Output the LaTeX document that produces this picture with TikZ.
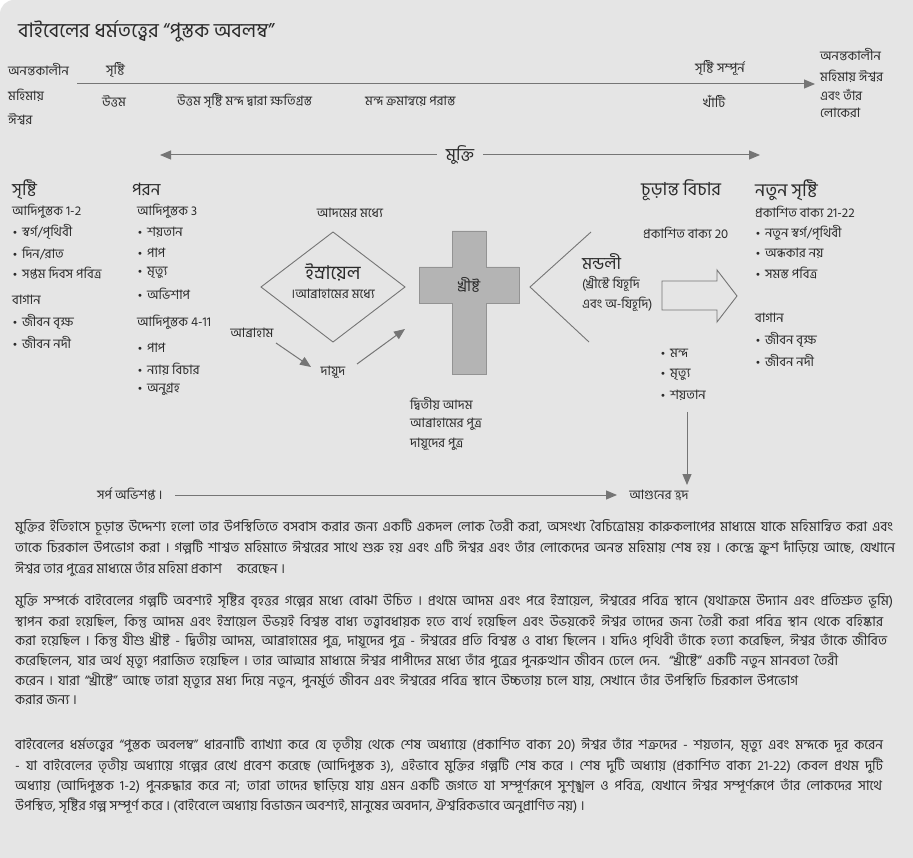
\documentclass[tikz,border=0pt]{standalone}
\usepackage{fontspec}
\usepackage{graphicx}
\setmainfont{Hind Siliguri}[Script=Bengali]
\newfontfamily\dvfont{DejaVu Sans}
\usetikzlibrary{arrows.meta}
\definecolor{bg}{HTML}{E5E5E5}
\definecolor{tc}{HTML}{2A2A2A}
\definecolor{lc}{HTML}{757575}
\definecolor{crossfill}{HTML}{B4B4B4}
\definecolor{crossline}{HTML}{939393}
\newcommand\bul{{\dvfont\fontsize{10}{10}\selectfont •}\hspace{4pt}}
\newcommand\fitline[2]{\sbox0{#2}\ifdim\wd0>#1\resizebox{#1}{!}{\usebox0}\else\makebox[#1][s]{#2}\fi}
\tikzset{
  txt/.style={anchor=west, inner sep=0pt, text=tc, font=\fontsize{13}{15}\selectfont},
  ctxt/.style={txt, anchor=center},
  hd/.style={txt, font=\fontsize{17}{19}\selectfont},
  ttl/.style={txt, font=\fontsize{20}{22}\selectfont},
  pl/.style={anchor=west, inner sep=0pt, text=tc, font=\fontsize{13.6}{15}\selectfont},
  ln/.style={draw=lc, line width=1pt},
  tip/.style={-{Triangle[length=11pt,width=9pt]}},
}
\begin{document}
\begin{tikzpicture}[x=1pt,y=-1pt]
\useasboundingbox (0,0) rectangle (913,858);
\fill[white] (0,0) rectangle (913,858);
\fill[bg] (913,858) -- (0,858) [rounded corners=14pt] -- (0,0) [sharp corners] -- (913,0) -- cycle;

% title
\node[ttl] (title) at (18,31) {বাইবেলের ধর্মতত্ত্বের “পুস্তক অবলম্ব”};

% top timeline
\node[txt] (t1) at (8,70) {অনন্তকালীন};
\node[txt] (t2) at (8,95) {মহিমায়};
\node[txt] (t3) at (8,119) {ঈশ্বর};
\node[txt] (srs) at (106,70) {সৃষ্টি};
\node[txt] (ut1) at (102,101) {উত্তম};
\node[txt] (ut2) at (177,101) {উত্তম সৃষ্টি মন্দ দ্বারা ক্ষতিগ্রস্ত};
\node[txt] (mnd) at (365,101) {মন্দ ক্রমান্বয়ে পরাস্ত};
\node[txt] (ssp) at (695,68) {সৃষ্টি সম্পূর্ন};
\node[txt] (khn) at (703,101) {খাঁটি};
\node[txt] (r1) at (820,55) {অনন্তকালীন};
\node[txt] (r2) at (820,76) {মহিমায় ঈশ্বর};
\node[txt] (r3) at (820,95) {এবং তাঁর};
\node[txt] (r4) at (820,113) {লোকেরা};
\coordinate (tS) at (77,84);
\coordinate (tE) at (815,84);
\draw[ln,tip] (tS) -- (tE);

% mukti arrow
\coordinate (mL) at (160,155);
\coordinate (mR) at (760,155);
\draw[ln,{Triangle[length=11pt,width=9pt]}-{Triangle[length=11pt,width=9pt]}] (mL) -- (mR);
\node[hd, anchor=center, fill=bg, inner xsep=9pt, inner ysep=2pt] (mukti) at (460,155) {মুক্তি};

% left column: creation
\node[hd] (c0) at (12,190) {সৃষ্টি};
\node[txt] (c1) at (12,211) {আদিপুস্তক 1-2};
\node[txt] (c2) at (12,232) {\bul স্বর্গ/পৃথিবী};
\node[txt] (c3) at (12,253) {\bul দিন/রাত};
\node[txt] (c4) at (12,273) {\bul সপ্তম দিবস পবিত্র};
\node[txt] (c5) at (12,300) {বাগান};
\node[txt] (c6) at (12,322) {\bul জীবন বৃক্ষ};
\node[txt] (c7) at (12,342) {\bul জীবন নদী};

% fall column
\node[hd] (f0) at (132,190) {পরন};
\node[txt] (f1) at (137,211) {আদিপুস্তক 3};
\node[txt] (f2) at (137,232) {\bul শয়তান};
\node[txt] (f3) at (137,253) {\bul পাপ};
\node[txt] (f4) at (137,273) {\bul মৃত্যু};
\node[txt] (f5) at (137,294) {\bul অভিশাপ};
\node[txt] (f6) at (137,322) {আদিপুস্তক 4-11};
\node[txt] (f7) at (137,348) {\bul পাপ};
\node[txt] (f8) at (137,369) {\bul ন্যায় বিচার};
\node[txt] (f9) at (137,389) {\bul অনুগ্রহ};

% Israel diamond
\node[ctxt] (adam) at (350,213) {আদমের মধ্যে};
\draw[ln, line width=0.9pt] (333,232) -- (405,287) -- (333,342) -- (261,287) -- cycle;
\node[hd, anchor=center, font=\fontsize{19}{21}\selectfont] (isr) at (333,272) {ইস্রায়েল};
\node[ctxt] (isr2) at (333,294) {।আব্রাহামের মধ্যে};
\node[ctxt] (abr) at (252,333) {আব্রাহাম};
\node[ctxt] (dav) at (333,372) {দায়ূদ};
\coordinate (a1s) at (276,343);
\coordinate (a1e) at (311,367);
\coordinate (a2s) at (357,364);
\coordinate (a2e) at (405,329);
\draw[ln,tip] (a1s) -- (a1e);
\draw[ln,tip] (a2s) -- (a2e);

% cross
\filldraw[fill=crossfill, draw=crossline, line width=0.8pt]
  (452,231) -- (486,231) -- (486,267) -- (519,267) -- (519,303) -- (486,303)
  -- (486,374) -- (452,374) -- (452,303) -- (419,303) -- (419,267) -- (452,267) -- cycle;
\node[hd, anchor=center, font=\fontsize{15}{17}\selectfont] (christ) at (469,285) {খ্রীষ্ট};
\node[txt] (x1) at (410,404) {দ্বিতীয় আদম};
\node[txt] (x2) at (410,424) {আব্রাহামের পুত্র};
\node[txt] (x3) at (410,444) {দায়ূদের পুত্র};

% church
\draw[ln, line width=0.9pt] (591,232) -- (530,287) -- (589,342);
\node[hd] (ch0) at (582,262) {মন্ডলী};
\node[txt] (ch1) at (582,284) {(খ্রীস্টে যিহূদি};
\node[txt] (ch2) at (582,304) {এবং অ-যিহূদি)};
\draw[ln, line width=0.9pt] (662,281) -- (717,281) -- (717,270) -- (737,296) -- (717,322) -- (717,310) -- (662,310) -- cycle;

% final judgement
\node[hd, font=\fontsize{18}{20}\selectfont] (fj) at (641,190) {চূড়ান্ত বিচার};
\node[txt] (fj1) at (643,233) {প্রকাশিত বাক্য 20};
\node[txt] (e1) at (660,353) {\bul মন্দ};
\node[txt] (e2) at (660,375) {\bul মৃত্যু};
\node[txt] (e3) at (660,395) {\bul শয়তান};
\node[ctxt] (lake) at (659,495) {আগুনের হ্রদ};
\coordinate (dS) at (687,412);
\coordinate (dE) at (687,485);
\draw[ln,tip] (dS) -- (dE);

% new creation
\node[hd, font=\fontsize{18}{20}\selectfont] (nc0) at (755,190) {নতুন সৃষ্টি};
\node[txt] (nc1) at (755,212) {প্রকাশিত বাক্য 21-22};
\node[txt] (nc2) at (755,233) {\bul নতুন স্বর্গ/পৃথিবী};
\node[txt] (nc3) at (755,253) {\bul অন্ধকার নয়};
\node[txt] (nc4) at (755,273) {\bul সমস্ত পবিত্র};
\node[txt] (nc5) at (755,318) {বাগান};
\node[txt] (nc6) at (755,340) {\bul জীবন বৃক্ষ};
\node[txt] (nc7) at (755,360) {\bul জীবন নদী};

% serpent
\node[txt] (serp) at (97,494) {সর্প অভিশপ্ত ।};
\coordinate (sS) at (175,495);
\coordinate (sE) at (617,495);
\draw[ln,tip] (sS) -- (sE);

% paragraph 1
\node[pl] (p1a) at (15,527) {\fitline{878pt}{মুক্তির ইতিহাসে চূড়ান্ত উদ্দেশ্য হলো তার উপস্থিতিতে বসবাস করার জন্য একটি একদল লোক তৈরী করা, অসংখ্য বৈচিত্রোময় কারুকলাপের মাধ্যমে যাকে মহিমান্বিত করা এবং}};
\node[pl] (p1b) at (15,548) {\fitline{880pt}{তাকে চিরকাল উপভোগ করা । গল্পটি শাশ্বত মহিমাতে ঈশ্বরের সাথে শুরু হয় এবং এটি ঈশ্বর এবং তাঁর লোকেদের অনন্ত মহিমায় শেষ হয় । কেন্দ্রে ক্রুশ দাঁড়িয়ে আছে, যেখানে}};
\node[pl] (p1c) at (15,569) {ঈশ্বর তার পুত্রের মাধ্যমে তাঁর মহিমা প্রকাশ\hspace{12pt} করেছেন ।};

% paragraph 2
\node[pl] (p2a) at (15,601) {\fitline{878pt}{মুক্তি সম্পর্কে বাইবেলের গল্পটি অবশ্যই সৃষ্টির বৃহত্তর গল্পের মধ্যে বোঝা উচিত । প্রথমে আদম এবং পরে ইস্রায়েল, ঈশ্বরের পবিত্র স্থানে (যথাক্রমে উদ্যান এবং প্রতিশ্রুত ভূমি)}};
\node[pl] (p2b) at (15,621) {\fitline{868pt}{স্থাপন করা হয়েছিল, কিন্তু আদম এবং ইস্রায়েল উভয়ই বিশ্বস্ত বাধ্য তত্ত্বাবধায়ক হতে ব্যর্থ হয়েছিল এবং উভয়কেই ঈশ্বর তাদের জন্য তৈরী করা পবিত্র স্থান থেকে বহিষ্কার}};
\node[pl] (p2c) at (15,641) {\fitline{872pt}{করা হয়েছিল । কিন্তু যীশু খ্রীষ্ট - দ্বিতীয় আদম, আব্রাহামের পুত্র, দায়ূদের পুত্র - ঈশ্বরের প্রতি বিশ্বস্ত ও বাধ্য ছিলেন । যদিও পৃথিবী তাঁকে হত্যা করেছিল, ঈশ্বর তাঁকে জীবিত}};
\node[pl] (p2d) at (15,661) {\fitline{823pt}{করেছিলেন, যার অর্থ মৃত্যু পরাজিত হয়েছিল । তার আত্মার মাধ্যমে ঈশ্বর পাপীদের মধ্যে তাঁর পুত্রের পুনরুত্থান জীবন ঢেলে দেন. “খ্রীষ্টে” একটি নতুন মানবতা তৈরী}};
\node[pl] (p2e) at (15,681) {\fitline{783pt}{করেন । যারা “খ্রীষ্টে” আছে তারা মৃত্যুর মধ্য দিয়ে নতুন, পুনর্মুর্ত জীবন এবং ঈশ্বরের পবিত্র স্থানে উচ্চতায় চলে যায়, সেখানে তাঁর উপস্থিতি চিরকাল উপভোগ}};
\node[pl] (p2f) at (15,700) {করার জন্য ।};

% paragraph 3
\node[pl] (p3a) at (15,745) {\fitline{868pt}{বাইবেলের ধর্মতত্ত্বের “পুস্তক অবলম্ব” ধারনাটি ব্যাখ্যা করে যে তৃতীয় থেকে শেষ অধ্যায়ে (প্রকাশিত বাক্য 20) ঈশ্বর তাঁর শত্রুদের - শয়তান, মৃত্যু এবং মন্দকে দূর করেন}};
\node[pl] (p3b) at (15,766) {\fitline{868pt}{- যা বাইবেলের তৃতীয় অধ্যায়ে গল্পের রেখে প্রবেশ করেছে (আদিপুস্তক 3), এইভাবে মুক্তির গল্পটি শেষ করে । শেষ দুটি অধ্যায় (প্রকাশিত বাক্য 21-22) কেবল প্রথম দুটি}};
\node[pl] (p3c) at (15,786) {\fitline{867pt}{অধ্যায় (আদিপুস্তক 1-2) পুনরুদ্ধার করে না; তারা তাদের ছাড়িয়ে যায় এমন একটি জগতে যা সম্পূর্ণরূপে সুশৃঙ্খল ও পবিত্র, যেখানে ঈশ্বর সম্পূর্ণরূপে তাঁর লোকদের সাথে}};
\node[pl] (p3d) at (15,806) {উপস্থিত, সৃষ্টির গল্প সম্পূর্ণ করে । (বাইবেলে অধ্যায় বিভাজন অবশ্যই, মানুষের অবদান, ঐশ্বরিকভাবে অনুপ্রাণিত নয়) ।};
\end{tikzpicture}
\end{document}
